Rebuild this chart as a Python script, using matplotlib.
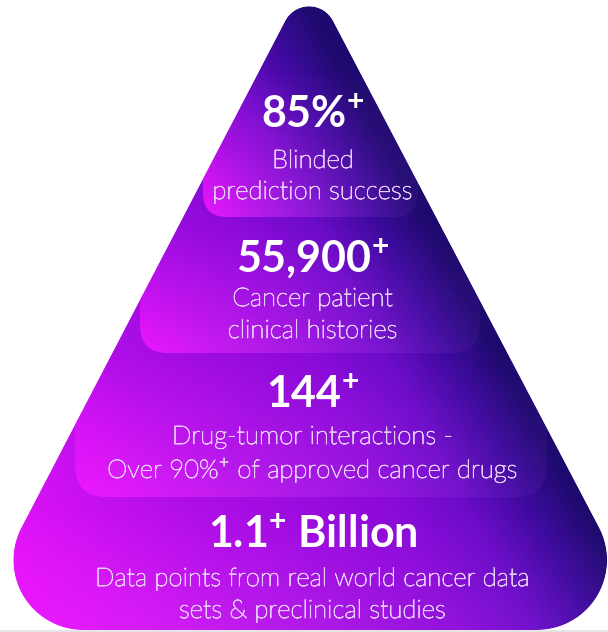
import numpy as np
import matplotlib.pyplot as plt
import matplotlib.patheffects as pe
from matplotlib.path import Path
from matplotlib.patches import PathPatch, FancyBboxPatch
from matplotlib.colors import LinearSegmentedColormap, to_rgb

plt.rcParams["mathtext.fontset"] = "custom"
plt.rcParams["mathtext.bf"] = "Lato:bold"
plt.rcParams["mathtext.rm"] = "Lato:light"

# tiers of the pyramid, top to bottom
numbers = [r"85%$^{\mathbf{+}}$", r"55,900$^{\mathbf{+}}$", r"144$^{\mathbf{+}}$",
           r"1.1$^{\mathbf{+}}$ Billion"]
captions = [
    ["Blinded", "prediction success"],
    ["Cancer patient", "clinical histories"],
    ["Drug-tumor interactions -", r"Over 90%$^{\mathrm{+}}$ of approved cancer drugs"],
    ["Data points from real world cancer data", "sets & preclinical studies"],
]

W, H = 608, 632
fig = plt.figure(figsize=(W / 100, H / 100), dpi=100)
ax = fig.add_axes([0, 0, 1, 1])
ax.set_xlim(0, W)
ax.set_ylim(H, 0)
ax.axis("off")


def rounded_polygon(verts, radii, n=40):
    verts = np.asarray(verts, float)
    pts = []
    k = len(verts)
    for i in range(k):
        v = verts[i]
        a = verts[i - 1] - v
        b = verts[(i + 1) % k] - v
        a /= np.linalg.norm(a)
        b /= np.linalg.norm(b)
        half = np.arccos(np.clip(a @ b, -1, 1)) / 2
        r = radii[i]
        d = r / np.tan(half)
        bis = (a + b) / np.linalg.norm(a + b)
        c = v + bis * r / np.sin(half)
        p1 = v + a * d
        p2 = v + b * d
        a1 = np.arctan2(*(p1 - c)[::-1])
        a2 = np.arctan2(*(p2 - c)[::-1])
        diff = (a2 - a1 + np.pi) % (2 * np.pi) - np.pi
        for t in np.linspace(0, 1, n):
            ang = a1 + diff * t
            pts.append(c + r * np.array([np.cos(ang), np.sin(ang)]))
    pts.append(pts[0])
    return np.array(pts)


tri = [(309, -25), (653, 630), (-32, 630)]
outline = rounded_polygon(tri, [27, 70, 70])
pyr_path = Path(outline, closed=True)

# diagonal gradient background
yy, xx = np.mgrid[0:H, 0:W]
t = 0.879 * xx - 0.477 * yy
t = np.clip((t + 280) / 550, 0, 1)
cmap = LinearSegmentedColormap.from_list(
    "pyr", [(0, "#ea14fb"), (0.37, "#b00ee8"), (0.7, "#8a0ad8"),
            (0.82, "#6a0cc8"), (0.92, "#3c0a9c"), (1, "#1e0a6e")])
bg = ax.imshow(t, cmap=cmap, extent=(0, W, H, 0), origin="upper",
               interpolation="bilinear", zorder=1)
bg.set_clip_path(PathPatch(pyr_path, transform=ax.transData))

# translucent tier bands, brightest at their lower left corner
bands = [(203, 60, 418, 217, 24), (140, 215, 480, 353, 28),
         (75, 345, 547, 497, 32), (0, 500, 608, 640, 0)]
mag = np.array(to_rgb("#f018ff"))
lav = np.array(to_rgb("#a050e8"))
for x0, y0, x1, y1, r in bands:
    box = FancyBboxPatch((x0, y0), x1 - x0, y1 - y0,
                         boxstyle=f"round,pad=0,rounding_size={r}",
                         transform=ax.transData, facecolor="none", edgecolor="none")
    ax.add_patch(box)
    s = np.linspace(0, 1, 200)[None, :]
    v = np.linspace(0, 1, 100)[:, None]
    img = np.zeros((100, 200, 4))
    img[..., :3] = (mag * (1 - s[..., None]) + lav * s[..., None]) * np.ones((100, 1, 1))
    img[..., 3] = 0.85 * (1 - s) ** 1.6 * v ** 1.2 + 0.10 * v
    im = ax.imshow(img, extent=(x0, x1, y1, y0), origin="upper",
                   interpolation="bilinear", zorder=2)
    im.set_clip_path(box)

# white mask outside the pyramid
outer = np.array([(-5, -5), (W + 5, -5), (W + 5, H + 5), (-5, H + 5), (-5, -5)])
inner = outline[::-1]
area = 0.5 * np.sum(outer[:-1, 0] * outer[1:, 1] - outer[1:, 0] * outer[:-1, 1])
area2 = 0.5 * np.sum(inner[:-1, 0] * inner[1:, 1] - inner[1:, 0] * inner[:-1, 1])
if np.sign(area) == np.sign(area2):
    inner = inner[::-1]
mask = Path.make_compound_path(Path(outer, closed=True), Path(inner, closed=True))
ax.add_patch(PathPatch(mask, facecolor="white", edgecolor="none", zorder=3))
ax.plot([0, W], [631, 631], color="#e4e4e4", lw=2, zorder=4)

cap_color = "#e6ccf6"
num_y = [115, 258, 395, 535]
cap_y = [(161, 192), (299, 331), (437, 470), (579, 611)]
for num, ny, lines, ys in zip(numbers, num_y, captions, cap_y):
    ax.text(313, ny, num, ha="center", va="center", color="white",
            fontsize=31, fontweight="bold", family="Lato", zorder=5)
    for line, y in zip(lines, ys):
        ax.text(313, y, line, ha="center", va="center", color=cap_color,
                fontsize=18.5, fontweight="light", family="Lato", zorder=5,
                path_effects=[pe.withStroke(linewidth=0.6, foreground=cap_color)])

fig.savefig("out.png", dpi=100)
